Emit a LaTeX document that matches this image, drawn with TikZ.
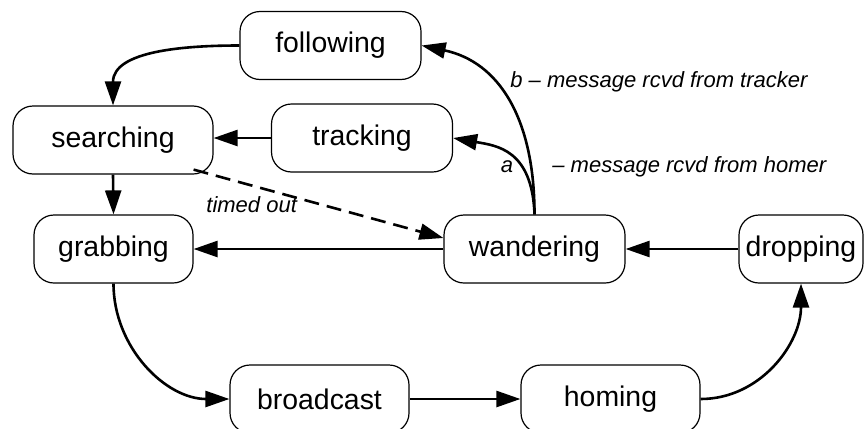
\documentclass[tikz,border=0pt]{standalone}
\usepackage{fontspec}
\setmainfont{Liberation Sans}
\usetikzlibrary{arrows.meta,positioning}
\tikzset{
  stbox/.style={draw=black, line width=0.6pt, rounded corners=10pt, fill=white,
                minimum width=90.5pt, minimum height=34pt, inner sep=2pt,
                font=\fontsize{14.2}{17}\selectfont},
  trarr/.style={-{Triangle[length=12pt,width=8pt]}, line width=1.3pt},
  lbl/.style={inner sep=0pt, font=\fontsize{11}{13}\selectfont\itshape},
}

\begin{document}
\begin{tikzpicture}[x=0.5pt,y=0.5pt]
    \useasboundingbox (0,0) rectangle (865,-428);
    % states
    \node[stbox] (following) at (330.5,-45.5) {following};
    \node[stbox] (tracking) at (362,-138) {tracking};
    \node[stbox, minimum width=100pt] (searching) at (113,-140) {searching};
    \node[stbox, minimum width=79.5pt] (grabbing) at (113.5,-249) {grabbing};
    \node[stbox] (wandering) at (534.5,-249) {wandering};
    \node[stbox, minimum width=62pt] (dropping) at (801,-249) {dropping};
    \node[stbox, minimum width=89.5pt] (broadcast) at (319.5,-399) {broadcast};
    \node[stbox, minimum width=89.5pt] (homing) at (610.5,-399) {homing};
    % transitions
    \draw[trarr] (following.west) to[out=180,in=90] (searching.north);
    \draw[trarr] (tracking.west) -- (tracking.west -| searching.east);
    \draw[trarr] (searching.south) -- (grabbing.north);
    \draw[trarr, dash pattern=on 7.5pt off 4pt] ([xshift=-10pt,yshift=2.5pt]searching.south east) -- ([yshift=5.5pt]wandering.west);
    \draw[trarr] (wandering.west) -- (grabbing.east);
    \draw[trarr] (dropping.west) -- (wandering.east);
    \draw[trarr] (wandering.north) to[out=90,in=-12,out looseness=1.2] (following.east);
    \draw[trarr] (wandering.north) to[out=92,in=-10,out looseness=1.5] (tracking.east);
    \draw[trarr] (grabbing.south) to[out=-90,in=180] (broadcast.west);
    \draw[trarr] (broadcast) -- (homing);
    \draw[trarr] (homing.east) to[out=0,in=-90] (dropping.south);
    % labels
    \node[lbl, anchor=base west] (lblb) at (510,-87) {b – message rcvd from tracker};
    \node[lbl, anchor=base] (lbla) at (507,-172) {a};
    \node[lbl, anchor=base west] (lblhomer) at (552,-172) {– message rcvd from homer};
    \node[lbl, anchor=base west] (lbltimed) at (206,-212) {timed out};
\end{tikzpicture}
\end{document}
